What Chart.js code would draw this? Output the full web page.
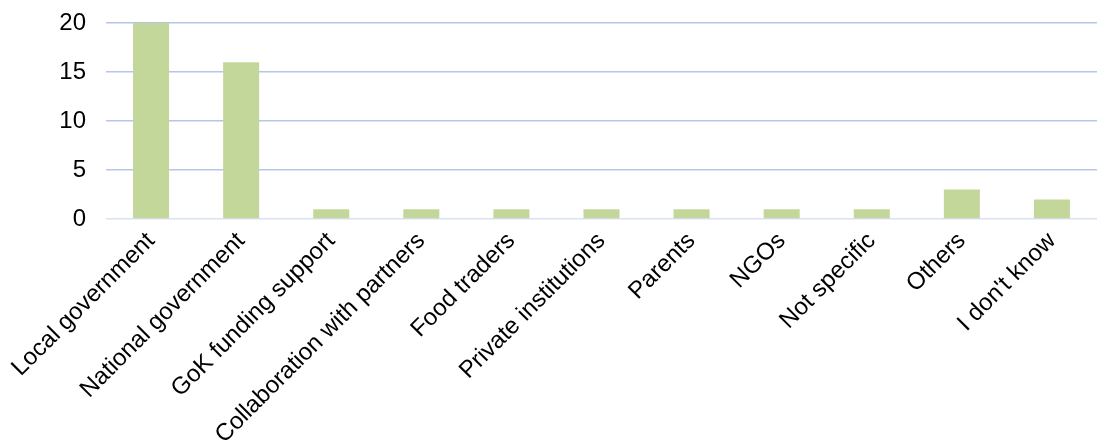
<!DOCTYPE html>
<html>
<head>
<meta charset="utf-8">
<script src="https://cdn.jsdelivr.net/npm/chart.js@4"></script>
<style>
  html, body { margin: 0; padding: 0; background: #fff; }
  #wrap { width: 1097px; height: 446px; }
</style>
</head>
<body>
<div id="wrap"><canvas id="chart" width="1097" height="446"></canvas></div>
<script>
// Chart data
const categories = [
    'Local government', 'National government', 'GoK funding support',
    'Collaboration with partners', 'Food traders', 'Private institutions',
    'Parents', 'NGOs', 'Not specific', 'Others', "I don't know"
];
const counts = [20, 16, 1, 1, 1, 1, 1, 1, 1, 3, 2];
const yTicks = [0, 5, 10, 15, 20];

const ctx = document.getElementById('chart').getContext('2d');

new Chart(ctx, {
    type: 'bar',
    data: {
        labels: categories,
        datasets: [{
            data: counts,
            backgroundColor: '#c4d79b',
            borderWidth: 0,
            categoryPercentage: 1,
            barPercentage: 0.4
        }]
    },
    options: {
        responsive: false,
        animation: false,
        layout: { padding: { top: 23, right: 0, left: 0, bottom: 0 } },
        plugins: {
            legend: { display: false },
            tooltip: { enabled: false }
        },
        scales: {
            x: {
                grid: { display: false, drawTicks: false },
                border: { display: false },
                ticks: {
                    color: '#000',
                    font: { family: 'Liberation Sans', size: 24 },
                    minRotation: 45,
                    maxRotation: 45,
                    padding: 8,
                    autoSkip: false
                },
                afterFit: (scale) => {
                    scale.height = 227;
                    scale.paddingLeft = 0;
                    scale.paddingRight = 0;
                }
            },
            y: {
                min: 0,
                max: 20,
                afterBuildTicks: (scale) => {
                    scale.ticks = yTicks.map(v => ({ value: v }));
                },
                grid: {
                    color: (c) => c.tick && c.tick.value === 0 ? '#d9e1f2' : '#b4c7e7',
                    lineWidth: 1.5,
                    drawTicks: false
                },
                border: { display: false },
                ticks: {
                    color: '#000',
                    font: { family: 'Liberation Sans', size: 24 },
                    padding: 20
                },
                afterFit: (scale) => {
                    scale.width = 106;
                    scale.paddingTop = 0;
                    scale.paddingBottom = 0;
                }
            }
        }
    }
});
</script>
</body>
</html>
